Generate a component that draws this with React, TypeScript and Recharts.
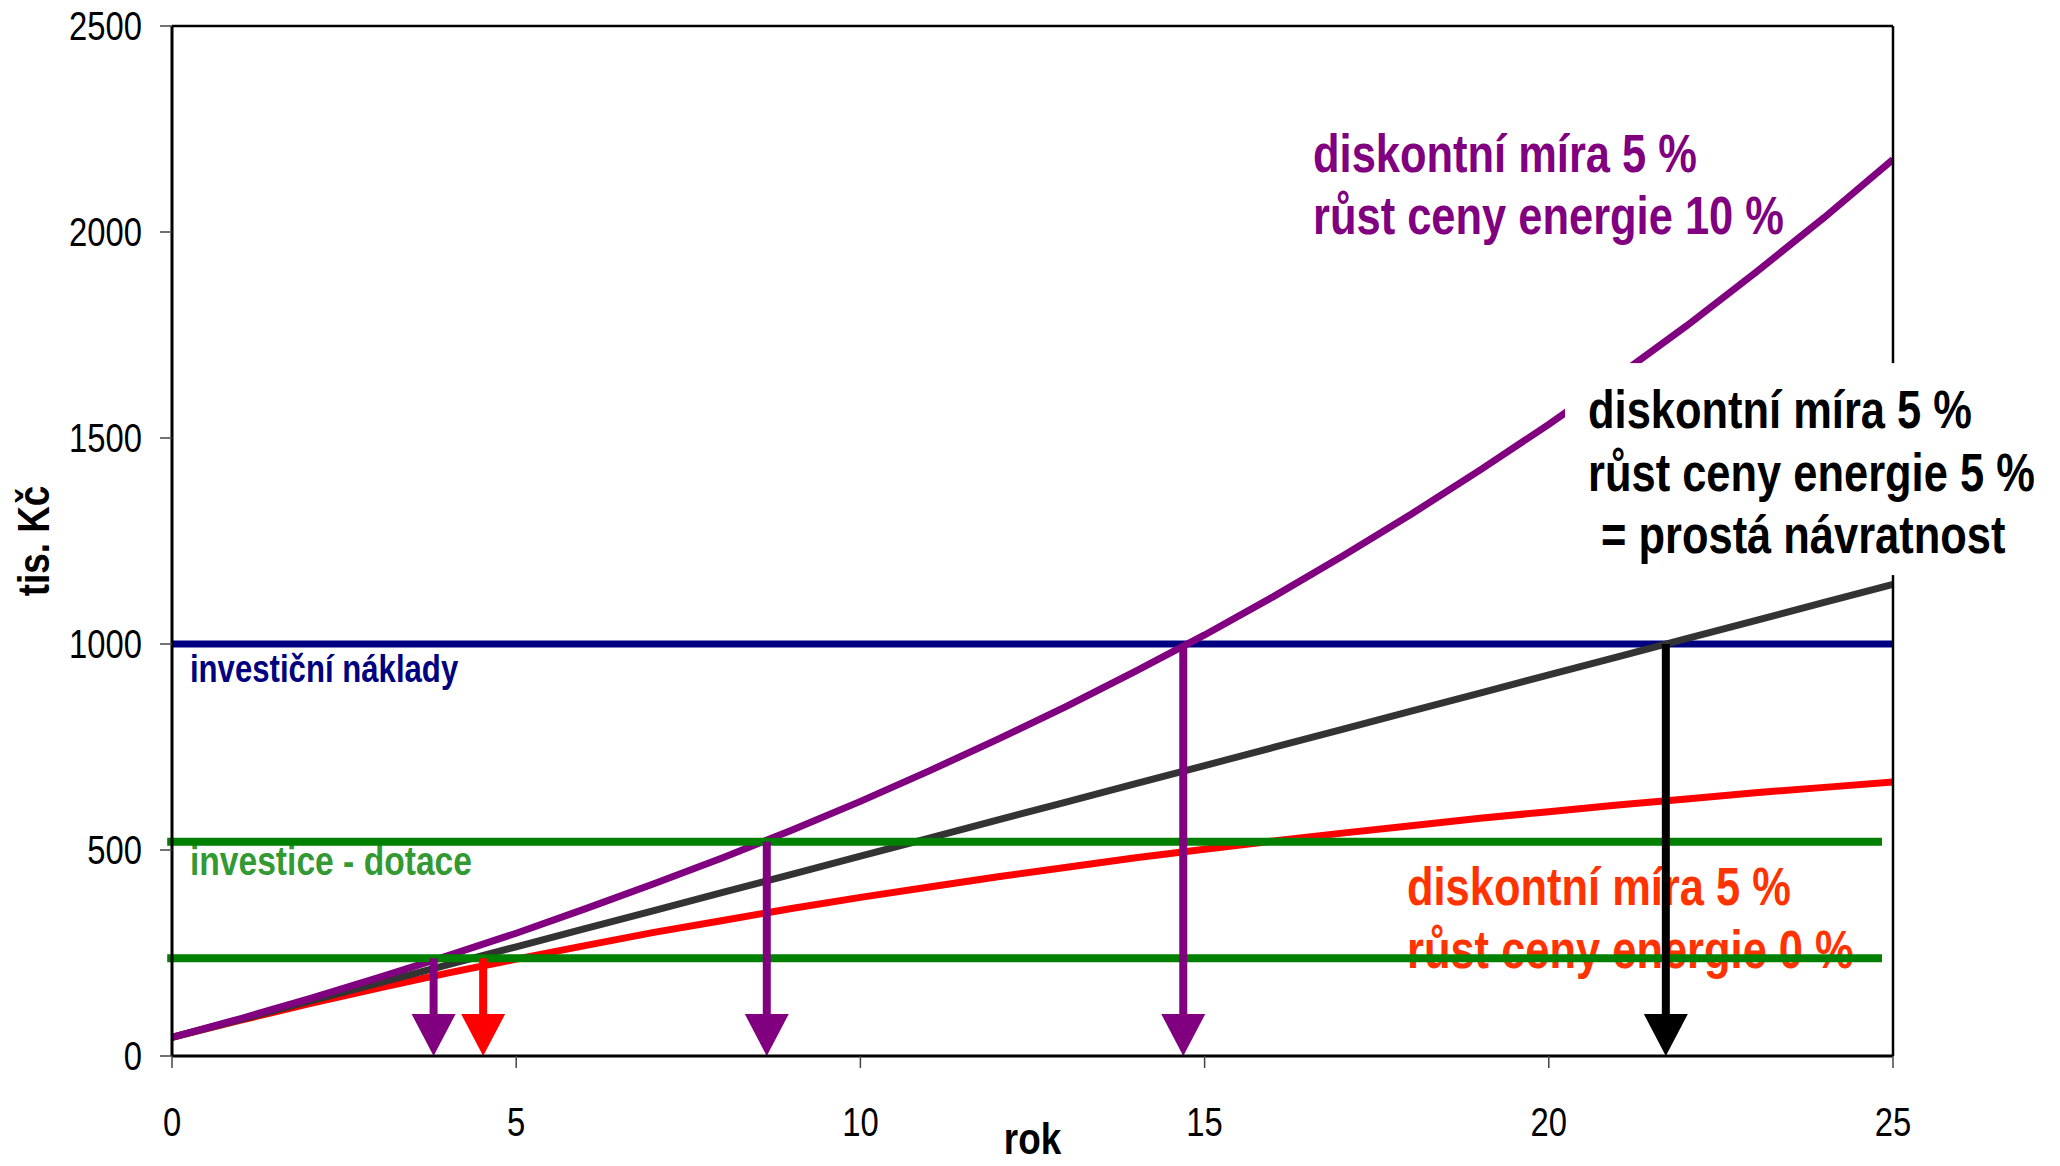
import React from "react";
import {
  ComposedChart,
  Line,
  XAxis,
  YAxis,
  ReferenceLine,
  ReferenceDot,
  Label,
} from "recharts";

// roky (0..25) a kumulované úspory v tis. Kč
const years = [0, 1, 2, 3, 4, 5, 6, 7, 8, 9, 10, 11, 12, 13, 14, 15, 16, 17, 18, 19, 20, 21, 22, 23, 24, 25];
const rust0 = [45, 87, 127, 165, 201, 235, 268, 300, 329, 358, 385, 410, 435, 458, 481, 502, 522, 541, 559, 577, 593, 609, 624, 639, 652, 665];
const rust5 = [45, 89, 133, 177, 221, 265, 309, 353, 397, 441, 485, 529, 573, 617, 661, 705, 749, 793, 837, 881, 925, 969, 1013, 1057, 1101, 1145];
const rust10 = [45, 91, 139, 190, 243, 298, 357, 418, 481, 548, 618, 692, 769, 849, 934, 1022, 1115, 1213, 1315, 1422, 1533, 1650, 1772, 1901, 2035, 2176];

const investicniNaklady = 1000;
const dotaceLevels = [520, 237];
const dotaceSpan = [-0.07, 24.84];

const xTicks = [0, 5, 10, 15, 20, 25];
const yTicks = [0, 500, 1000, 1500, 2000, 2500];

// šipky návratnosti: rok, odkud (tis. Kč)
const arrowYears = [3.8, 4.52, 8.64, 14.69, 21.7];
const arrowFrom = [237, 237, 520, 1000, 1000];
const arrowColors = ["#800080", "#FF0000", "#800080", "#800080", "#000000"];

const purpleNote = ["diskontní míra 5 %", "růst ceny energie 10 %"];
const blackNote = ["diskontní míra 5 %", "růst ceny energie 5 %", "= prostá návratnost"];
const redNote = ["diskontní míra 5 %", "růst ceny energie 0 %"];

const data = years.map((year, i) => ({
  year,
  r0: rust0[i],
  r5: rust5[i],
  r10: rust10[i],
}));

const FONT = "'Liberation Sans', Arial, sans-serif";
const NARROW = 0.82;

function NarrowText({
  x,
  y,
  lines,
  size,
  color,
  bold = true,
  anchor = "start",
  lineGap = 62.5,
  indents = [],
}: {
  x: number;
  y: number;
  lines: string[];
  size: number;
  color: string;
  bold?: boolean;
  anchor?: "start" | "middle" | "end";
  lineGap?: number;
  indents?: number[];
}) {
  return (
    <g transform={`translate(${x},${y}) scale(${NARROW},1)`}>
      {lines.map((t, i) => (
        <text
          key={i}
          x={(indents[i] || 0) / NARROW}
          y={i * lineGap}
          fontSize={size}
          fontWeight={bold ? 700 : 400}
          fontFamily={FONT}
          fill={color}
          textAnchor={anchor}
        >
          {t}
        </text>
      ))}
    </g>
  );
}

const YTick = (props: any) => {
  const { x, y, payload } = props;
  return <NarrowText x={x} y={y + 14} lines={[String(payload.value)]} size={40} color="#000" bold={false} anchor="end" />;
};

const XTick = (props: any) => {
  const { x, y, payload } = props;
  return <NarrowText x={x} y={y + 28} lines={[String(payload.value)]} size={40} color="#000" bold={false} anchor="middle" />;
};

const noteShape = (lines: string[], color: string, size: number) => (p: any) =>
  <NarrowText x={p.cx} y={p.cy} lines={lines} size={size} color={color} />;

const boxedNoteShape = (p: any) => (
  <g>
    <rect x={p.cx - 23} y={p.cy - 65} width={520} height={212} fill="#ffffff" />
    <NarrowText x={p.cx} y={p.cy} lines={blackNote} size={53} color="#000000" indents={[0, 0, 13]} />
  </g>
);

const arrowShape = (color: string) => (p: any) => {
  const x = p.x1;
  const top = Math.min(p.y1, p.y2);
  const tip = Math.max(p.y1, p.y2);
  const headH = 42;
  const headW = 44;
  return (
    <g>
      <line x1={x} y1={top} x2={x} y2={tip - headH + 2} stroke={color} strokeWidth={8} />
      <polygon points={`${x - headW / 2},${tip - headH} ${x + headW / 2},${tip - headH} ${x},${tip}`} fill={color} />
    </g>
  );
};

export default function App() {
  return (
    <div style={{ position: "absolute", left: 0, top: 0, width: 2060, height: 1166, background: "#fff" }}>
      <ComposedChart
        width={2060}
        height={1166}
        data={data}
        margin={{ top: 26, right: 167, bottom: 50, left: 72 }}
        style={{ overflow: "visible" }}
      >
        <XAxis
          dataKey="year"
          type="number"
          domain={[0, 25]}
          ticks={xTicks}
          allowDataOverflow
          height={60}
          tickSize={12}
          tickMargin={40}
          tick={<XTick />}
          axisLine={{ stroke: "#000", strokeWidth: 3 }}
          tickLine={{ stroke: "#444", strokeWidth: 1.5 }}
        >
          <Label
            content={(p: any) => {
              const vb = p.viewBox;
              return <NarrowText x={vb.x + vb.width / 2} y={vb.y + 98} lines={["rok"]} size={45} color="#000" anchor="middle" />;
            }}
          />
        </XAxis>
        <YAxis
          type="number"
          domain={[0, 2500]}
          ticks={yTicks}
          width={100}
          tickSize={12}
          tickMargin={18}
          tick={<YTick />}
          axisLine={{ stroke: "#000", strokeWidth: 3 }}
          tickLine={{ stroke: "#444", strokeWidth: 1.5 }}
        >
          <Label
            content={(p: any) => {
              const vb = p.viewBox;
              const cx = 49;
              const cy = vb.y + vb.height / 2;
              return (
                <g transform={`translate(${cx},${cy}) rotate(-90)`}>
                  <NarrowText x={0} y={0} lines={["tis. Kč"]} size={45} color="#000" anchor="middle" />
                </g>
              );
            }}
          />
        </YAxis>

        <ReferenceDot x={16.575} y={2146} r={0} ifOverflow="visible" zIndex={50} shape={noteShape(purpleNote, "#800080", 53)} />
        <ReferenceDot x={17.94} y={366} r={0} ifOverflow="visible" zIndex={50} shape={noteShape(redNote, "#FF3300", 53)} />
        <ReferenceDot x={0.26} y={908} r={0} ifOverflow="visible" zIndex={50} shape={noteShape(["investiční náklady"], "#000080", 38)} />
        <ReferenceDot x={0.26} y={439} r={0} ifOverflow="visible" zIndex={50} shape={noteShape(["investice - dotace"], "#339933", 41)} />

        <ReferenceLine y={investicniNaklady} stroke="#000080" strokeWidth={7} zIndex={60} />

        <Line type="linear" dataKey="r0" stroke="#FF0000" strokeWidth={7} dot={false} isAnimationActive={false} />
        <Line type="linear" dataKey="r5" stroke="#333333" strokeWidth={7} dot={false} isAnimationActive={false} />
        <Line type="linear" dataKey="r10" stroke="#800080" strokeWidth={7} dot={false} isAnimationActive={false} />

        {dotaceLevels.map((v) => (
          <ReferenceLine
            key={v}
            segment={[{ x: dotaceSpan[0], y: v }, { x: dotaceSpan[1], y: v }]}
            stroke="#008000"
            strokeWidth={8}
            ifOverflow="visible"
            zIndex={450}
          />
        ))}

        {arrowYears.map((ax, i) => (
          <ReferenceLine
            key={ax}
            segment={[{ x: ax, y: arrowFrom[i] }, { x: ax, y: 0 }]}
            ifOverflow="visible"
            zIndex={460}
            shape={arrowShape(arrowColors[i])}
          />
        ))}

        <ReferenceLine y={2500} stroke="#000" strokeWidth={2.5} zIndex={470} />
        <ReferenceLine x={25} stroke="#000" strokeWidth={2.5} zIndex={470} />

        <ReferenceDot x={20.57} y={1524} r={0} ifOverflow="visible" zIndex={1500} shape={boxedNoteShape} />
      </ComposedChart>
    </div>
  );
}
